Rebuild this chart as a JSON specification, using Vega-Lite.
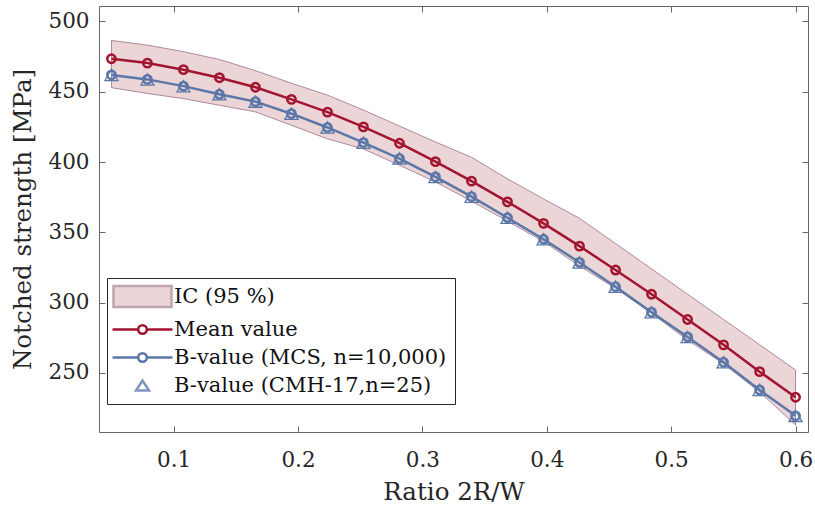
{
  "$schema": "https://vega.github.io/schema/vega-lite/v6.json",
  "width": 709,
  "height": 426,
  "autosize": {"type": "none"},
  "padding": {"left": 99, "top": 6, "right": 7, "bottom": 81},
  "background": "white",
  "config": {
    "view": {"stroke": null},
    "font": "DejaVu Serif",
    "axis": {
      "grid": false,
      "labelFont": "DejaVu Serif",
      "labelFontSize": 21.5,
      "labelColor": "#262626",
      "titleFont": "DejaVu Serif",
      "titleFontSize": 24.5,
      "titleFontWeight": "normal",
      "titleColor": "#262626",
      "domainColor": "#666666",
      "domainWidth": 1,
      "tickColor": "#666666",
      "tickWidth": 1,
      "tickSize": -6
    },
    "legend": {
      "orient": "none",
      "legendX": 8,
      "legendY": 272,
      "padding": 8,
      "strokeColor": "#262626",
      "fillColor": "#ffffff",
      "labelFont": "DejaVu Serif",
      "labelFontSize": 21,
      "labelColor": "#111111",
      "labelLimit": 400,
      "symbolSize": 100,
      "symbolOffset": 17,
      "symbolStrokeWidth": 2.5,
      "labelOffset": 21,
      "rowPadding": 6,
      "symbolOpacity": 1
    }
  },
  "data": {
    "values": [
      {"x": 0.05, "mean": 473.5, "bval": 462.0, "cmh": 462.0, "upper": 486.5, "lower": 452.9},
      {"x": 0.0789, "mean": 470.4, "bval": 458.8, "cmh": 458.8, "upper": 483.2, "lower": 448.8},
      {"x": 0.1079, "mean": 465.7, "bval": 454.0, "cmh": 454.0, "upper": 478.5, "lower": 445.1},
      {"x": 0.1368, "mean": 460.0, "bval": 448.2, "cmh": 448.2, "upper": 473.0, "lower": 440.4},
      {"x": 0.1658, "mean": 453.2, "bval": 443.0, "cmh": 443.0, "upper": 465.0, "lower": 435.7},
      {"x": 0.1947, "mean": 444.6, "bval": 434.4, "cmh": 434.4, "upper": 456.1, "lower": 426.2},
      {"x": 0.2237, "mean": 435.5, "bval": 424.6, "cmh": 424.6, "upper": 447.6, "lower": 416.5},
      {"x": 0.2526, "mean": 425.0, "bval": 413.8, "cmh": 413.8, "upper": 437.0, "lower": 409.3},
      {"x": 0.2816, "mean": 413.4, "bval": 402.5, "cmh": 402.5, "upper": 425.6, "lower": 397.7},
      {"x": 0.3105, "mean": 400.3, "bval": 389.4, "cmh": 389.4, "upper": 414.3, "lower": 385.9},
      {"x": 0.3395, "mean": 386.4, "bval": 375.4, "cmh": 375.4, "upper": 403.4, "lower": 372.2},
      {"x": 0.3684, "mean": 371.7, "bval": 360.4, "cmh": 360.4, "upper": 388.1, "lower": 358.0},
      {"x": 0.3974, "mean": 356.4, "bval": 345.1, "cmh": 345.1, "upper": 373.8, "lower": 343.5},
      {"x": 0.4263, "mean": 340.2, "bval": 328.6, "cmh": 328.6, "upper": 360.0, "lower": 326.0},
      {"x": 0.4553, "mean": 323.2, "bval": 311.3, "cmh": 311.3, "upper": 342.0, "lower": 310.2},
      {"x": 0.4842, "mean": 306.0, "bval": 293.2, "cmh": 293.2, "upper": 324.1, "lower": 292.4},
      {"x": 0.5132, "mean": 288.0, "bval": 275.6, "cmh": 275.6, "upper": 306.0, "lower": 273.4},
      {"x": 0.5421, "mean": 270.0, "bval": 257.6, "cmh": 257.6, "upper": 288.1, "lower": 256.5},
      {"x": 0.5711, "mean": 250.9, "bval": 237.9, "cmh": 237.9, "upper": 270.1, "lower": 236.5},
      {"x": 0.6, "mean": 232.7, "bval": 219.5, "cmh": 219.5, "upper": 252.1, "lower": 213.0}
    ]
  },
  "layer": [
    {
      "mark": {"type": "area", "fill": "#ebd5d7", "stroke": "#9a7186", "strokeWidth": 0.8, "opacity": 1},
      "encoding": {
        "x": {
          "field": "x", "type": "quantitative",
          "scale": {"domain": [0.04, 0.61], "nice": false, "zero": false},
          "axis": {"orient": "bottom", "values": [0.1, 0.2, 0.3, 0.4, 0.5, 0.6], "format": ".1f", "title": "Ratio 2R/W", "labelPadding": 23, "titlePadding": 10}
        },
        "y": {
          "field": "upper", "type": "quantitative",
          "scale": {"domain": [208, 511], "nice": false, "zero": false},
          "axis": {"orient": "left", "values": [250, 300, 350, 400, 450, 500], "title": "Notched strength [MPa]", "labelPadding": 16, "titlePadding": 12}
        },
        "y2": {"field": "lower"}
      }
    },
    {
      "mark": {"type": "line", "stroke": "#a2142f", "strokeWidth": 2.5, "opacity": 1},
      "encoding": {
        "x": {"field": "x", "type": "quantitative", "axis": null},
        "y": {"field": "mean", "type": "quantitative", "axis": null}
      }
    },
    {
      "mark": {"type": "line", "stroke": "#5b77a8", "strokeWidth": 2.5, "opacity": 1},
      "encoding": {
        "x": {"field": "x", "type": "quantitative", "axis": null},
        "y": {"field": "bval", "type": "quantitative", "axis": null}
      }
    },
    {
      "mark": {"type": "point", "shape": "triangle-up", "filled": false, "stroke": "#5b77a8", "strokeWidth": 1.3, "size": 170, "opacity": 1},
      "encoding": {
        "x": {"field": "x", "type": "quantitative", "axis": null},
        "y": {"field": "cmh", "type": "quantitative", "axis": null}
      }
    },
    {
      "mark": {"type": "point", "shape": "circle", "filled": false, "stroke": "#a2142f", "strokeWidth": 2.5, "size": 70, "opacity": 1},
      "encoding": {
        "x": {"field": "x", "type": "quantitative", "axis": {"orient": "top", "labels": false, "title": null, "values": [0.1, 0.2, 0.3, 0.4, 0.5, 0.6]}},
        "y": {"field": "mean", "type": "quantitative", "axis": {"orient": "right", "labels": false, "title": null, "values": [250, 300, 350, 400, 450, 500]}}
      }
    },
    {
      "mark": {"type": "point", "shape": "circle", "filled": false, "stroke": "#5b77a8", "strokeWidth": 2.5, "size": 70, "opacity": 1},
      "encoding": {
        "x": {"field": "x", "type": "quantitative", "axis": null},
        "y": {"field": "bval", "type": "quantitative", "axis": null}
      }
    },
    {
      "transform": [{"filter": "false"}],
      "mark": {"type": "point", "opacity": 1},
      "encoding": {
        "stroke": {
          "datum": "IC (95 %)", "type": "nominal",
          "scale": {
            "domain": ["IC (95 %)", "Mean value", "B-value (MCS, n=10,000)", "B-value (CMH-17,n=25)"],
            "range": ["#c2a3b1", "#a2142f", "#5b77a8", "#7f95bd"]
          },
          "legend": {"title": null}
        },
        "fill": {
          "datum": "IC (95 %)", "type": "nominal",
          "scale": {
            "domain": ["IC (95 %)", "Mean value", "B-value (MCS, n=10,000)", "B-value (CMH-17,n=25)"],
            "range": ["#ebd5d7", "transparent", "transparent", "transparent"]
          },
          "legend": {"title": null}
        },
        "shape": {
          "datum": "IC (95 %)", "type": "nominal",
          "scale": {
            "domain": ["IC (95 %)", "Mean value", "B-value (MCS, n=10,000)", "B-value (CMH-17,n=25)"],
            "range": [
              "M-5.8,-2.1H5.8V2.1H-5.8Z",
              "M-6,0H-0.86M0.86,0H6M-0.86,0A0.86,0.86 0 1,0 0.86,0A0.86,0.86 0 1,0 -0.86,0",
              "M-6,0H-0.86M0.86,0H6M-0.86,0A0.86,0.86 0 1,0 0.86,0A0.86,0.86 0 1,0 -0.86,0",
              "M0,-1.0L1.3,1.0L-1.3,1.0Z"
            ]
          },
          "legend": {"title": null}
        }
      }
    }
  ],
  "resolve": {"axis": {"x": "independent", "y": "independent"}}
}
